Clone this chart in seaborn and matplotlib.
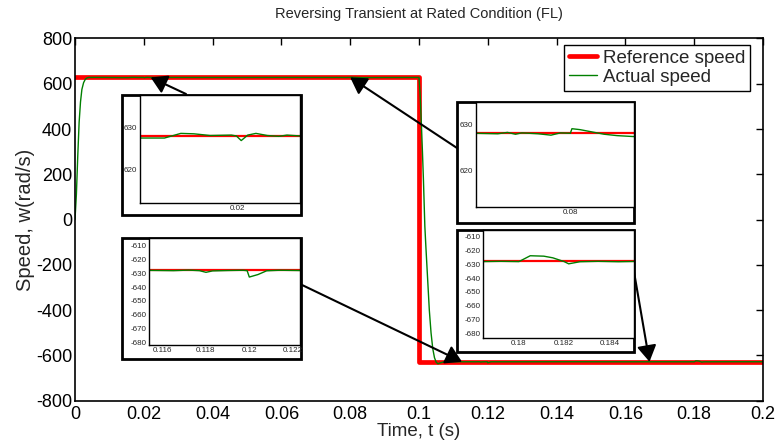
import numpy as np
import pandas as pd
import matplotlib
matplotlib.use("Agg")
import matplotlib.pyplot as plt
import seaborn as sns
from matplotlib.patches import Rectangle

# ---------------- data ----------------
ref_t = [0.0, 0.1, 0.1, 0.2]
ref_w = [628.0, 628.0, -628.0, -628.0]

rise_t = [0.0, 0.0004, 0.0008, 0.0012, 0.0016, 0.002, 0.0025, 0.003, 0.0035, 0.004, 0.005, 0.008, 0.011]
rise_w = [0.0, 110.0, 280.0, 430.0, 520.0, 575.0, 605.0, 620.0, 626.0, 628.0, 628.2, 628.3, 627.8]

ins1_t = [0.0140, 0.0155, 0.0165, 0.0173, 0.0183, 0.0196, 0.0199, 0.0202, 0.0206, 0.0211, 0.0218, 0.0225, 0.0230, 0.0238]
ins1_w = [627.4, 627.4, 628.5, 628.4, 628.0, 628.1, 627.9, 626.8, 628.1, 628.5, 628.0, 627.8, 628.1, 627.9]

mid1_t = [0.030, 0.045, 0.060, 0.070]
mid1_w = [628.1, 627.9, 628.2, 628.0]

ins2_t = [0.0742, 0.0755, 0.0761, 0.0766, 0.0770, 0.0780, 0.0788, 0.0794, 0.0800, 0.0801, 0.0806, 0.0812, 0.0821, 0.0829, 0.0839]
ins2_w = [628.0, 627.9, 628.2, 627.8, 628.1, 627.9, 627.6, 628.1, 628.0, 629.0, 628.8, 628.4, 627.8, 627.5, 627.3]

fall_t = [0.090, 0.0995, 0.1, 0.1003, 0.1007, 0.101, 0.1013, 0.1017, 0.102, 0.1025, 0.103, 0.1035, 0.104, 0.1045, 0.105, 0.1055, 0.106, 0.107, 0.109]
fall_w = [627.8, 628.0, 628.0, 560.0, 420.0, 300.0, 170.0, -30.0, -120.0, -260.0, -400.0, -500.0, -570.0, -610.0, -630.0, -637.0, -634.0, -629.0, -628.0]

ins3_t = [0.1154, 0.1165, 0.1172, 0.1177, 0.1180, 0.1183, 0.1190, 0.1197, 0.1199, 0.1200, 0.1204, 0.1208, 0.1214, 0.1223]
ins3_w = [-628.0, -628.2, -627.8, -628.2, -629.4, -628.4, -628.1, -627.9, -628.2, -632.8, -631.0, -628.3, -627.9, -628.1]

mid2_t = [0.130, 0.145, 0.160, 0.170]
mid2_w = [-628.1, -627.9, -628.2, -628.0]

ins4_t = [0.1784, 0.1792, 0.1800, 0.1805, 0.1811, 0.1815, 0.1820, 0.1822, 0.1827, 0.1835, 0.1844, 0.1851]
ins4_w = [-628.2, -628.0, -628.2, -624.0, -624.3, -625.5, -628.2, -629.8, -628.3, -628.0, -628.3, -628.1]

end_t = [0.190, 0.200]
end_w = [-627.9, -628.0]

x_ticks = [0, 0.02, 0.04, 0.06, 0.08, 0.1, 0.12, 0.14, 0.16, 0.18, 0.2]
x_ticklabels = ["0", "0.02", "0.04", "0.06", "0.08", "0.1", "0.12", "0.14", "0.16", "0.18", "0.2"]
y_ticks = [-800, -600, -400, -200, 0, 200, 400, 600, 800]

# ---------------- style ----------------
sns.set_theme(style="white")
plt.rcParams['font.family'] = ['Liberation Sans', 'DejaVu Sans']
plt.rcParams['axes.unicode_minus'] = False

W, H = 779, 443
fig = plt.figure(figsize=(W / 100, H / 100), dpi=100)
fig.patch.set_facecolor('white')


def frac(l, t, r, b):
    return [l / W, 1 - b / H, (r - l) / W, (b - t) / H]


ref_df = pd.DataFrame({'t': ref_t, 'w': ref_w})
act_df = pd.DataFrame({
    't': rise_t + ins1_t + mid1_t + ins2_t + fall_t + ins3_t + mid2_t + ins4_t + end_t,
    'w': rise_w + ins1_w + mid1_w + ins2_w + fall_w + ins3_w + mid2_w + ins4_w + end_w,
})

RED = '#ff0000'
GREEN = '#008000'

ax = fig.add_axes(frac(75, 38.5, 763, 400.7))
ax.set_zorder(0)
sns.lineplot(data=ref_df, x='t', y='w', ax=ax, color=RED, lw=3.4,
             estimator=None, sort=False, label='Reference speed')
sns.lineplot(data=act_df, x='t', y='w', ax=ax, color=GREEN, lw=1.0,
             estimator=None, sort=False, label='Actual speed')
ax.set_xlim(0, 0.2)
ax.set_ylim(-800, 800)
ax.set_xticks(x_ticks)
ax.set_xticklabels(x_ticklabels)
ax.set_yticks(y_ticks)
ax.set_yticklabels([str(v) for v in y_ticks])
ax.tick_params(direction='in', top=True, right=True, length=5, width=1,
               labelsize=13, colors='black')
ax.tick_params(axis='x', pad=4)
ax.tick_params(axis='y', pad=2)
for s in ax.spines.values():
    s.set_linewidth(1.2)
    s.set_color('black')
ax.set_xlabel('Time, t (s)', fontsize=13.5, labelpad=0)
ax.set_ylabel('Speed, w(rad/s)', fontsize=14.5, labelpad=1)
ax.set_title('Reversing Transient at Rated Condition (FL)', fontsize=10.5, pad=15)
leg = ax.legend(loc='upper right', bbox_to_anchor=(0.981, 0.982), fontsize=13.5,
                frameon=True, fancybox=False, framealpha=1, edgecolor='black',
                handlelength=1.5, borderpad=0.25, labelspacing=0.1,
                handletextpad=0.3, borderaxespad=0)
leg.get_frame().set_linewidth(1.0)


def make_inset(box, axbox, xlim, ylim, xt, xtl, yt):
    l, t, r, b = box
    rect = Rectangle((l / W, 1 - b / H), (r - l) / W, (b - t) / H,
                     transform=fig.transFigure, facecolor='white',
                     edgecolor='black', lw=2.0, zorder=1)
    fig.add_artist(rect)
    iax = fig.add_axes(frac(*axbox))
    iax.set_zorder(2)
    sns.lineplot(data=ref_df, x='t', y='w', ax=iax, color=RED, lw=1.6,
                 estimator=None, sort=False, legend=False)
    sns.lineplot(data=act_df, x='t', y='w', ax=iax, color=GREEN, lw=1.0,
                 estimator=None, sort=False, legend=False)
    iax.set_xlim(*xlim)
    iax.set_ylim(*ylim)
    iax.set_xticks(xt)
    iax.set_xticklabels(xtl)
    iax.set_yticks(yt)
    iax.set_yticklabels([str(v) for v in yt])
    iax.tick_params(axis='x', direction='in', length=2, width=0.6, labelsize=5.8, pad=1.5)
    iax.tick_params(axis='y', direction='out', length=1.5, width=0.6, labelsize=5.8, pad=0.5)
    iax.set_xlabel('')
    iax.set_ylabel('')
    for s in iax.spines.values():
        s.set_linewidth(1.0)
        s.set_color('black')
    iax.set_facecolor('white')
    return iax


make_inset((122, 95, 301, 215), (140, 95, 300, 203), (0.0140, 0.0238), (612, 637.6),
           [0.02], ["0.02"], [620, 630])
make_inset((457, 102, 634, 223), (476, 102, 634, 207), (0.07415, 0.08395), (612, 634.8),
           [0.08], ["0.08"], [620, 630])
make_inset((122, 238, 301, 359), (149, 238, 300, 345), (0.11537, 0.12234), (-681.7, -604.7),
           [0.116, 0.118, 0.12, 0.122], ["0.116", "0.118", "0.12", "0.122"],
           [-680, -670, -660, -650, -640, -630, -620, -610])
make_inset((457, 230, 634, 352), (483, 230, 634, 338), (0.17841, 0.18509), (-683.1, -605.5),
           [0.18, 0.182, 0.184], ["0.18", "0.182", "0.184"],
           [-680, -670, -660, -650, -640, -630, -620, -610])

# arrows from insets to the zoomed regions of the main curve
arrow_tips = [(0.022, 628), (0.080, 628), (0.1125, -628), (0.167, -628)]
arrow_tails_px = [(186, 94), (457, 148), (300, 284), (633, 266)]
for (xt_, yt_), (px, py) in zip(arrow_tips, arrow_tails_px):
    ann = ax.annotate('', xy=(xt_, yt_), xycoords='data',
                      xytext=(px / W, 1 - py / H), textcoords='figure fraction',
                      arrowprops=dict(arrowstyle='-|>,head_length=0.7,head_width=0.42',
                                      mutation_scale=14, lw=1.5, color='black',
                                      shrinkA=0, shrinkB=0))
    ann.set_zorder(3)

fig.savefig('out.png', dpi=100, facecolor='white')
